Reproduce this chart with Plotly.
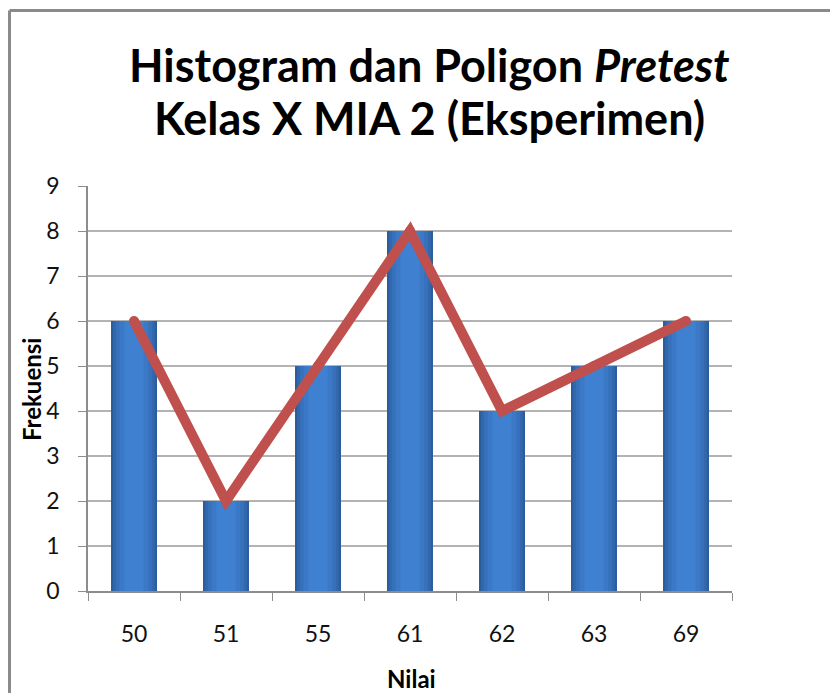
import plotly.graph_objects as go

nilai = ["50", "51", "55", "61", "62", "63", "69"]
frekuensi = [6, 2, 5, 8, 4, 5, 6]
y_ticks = [0, 1, 2, 3, 4, 5, 6, 7, 8, 9]

title_line1 = "Histogram dan Poligon <i>Pretest</i>"
title_line2 = "Kelas X MIA 2 (Eksperimen)"
x_title = "Nilai"
y_title = "Frekuensi"

FONT = "Lato"

fig = go.Figure()

# layered bars to imitate the horizontal shading of the original columns
layers = [
    (0.50, "#2C5D9C"),
    (0.45, "#3269AE"),
    (0.39, "#3771BB"),
    (0.31, "#3B79C6"),
    (0.21, "#3F80D0"),
]
for w, c in layers:
    fig.add_trace(go.Bar(
        x=nilai, y=frekuensi, width=w,
        marker=dict(color=c, line=dict(width=0)),
        showlegend=False, hoverinfo="skip",
    ))

fig.add_trace(go.Scatter(
    x=nilai, y=frekuensi, mode="lines+markers",
    line=dict(color="#C0504D", width=10),
    marker=dict(color="#C0504D", size=10),
    showlegend=False, hoverinfo="skip",
))

# page is offset by the 8px body margin; figure coordinates below
W, H = 830, 685
L, R = 80, 724
T, B = 178, 583

def px_x(px):
    return (px - L) / (R - L)

def px_y(py):
    return (B - py) / (B - T)

border = "#8A8A8A"
fig.add_shape(type="line", xref="paper", yref="paper",
              x0=px_x(1.5), x1=px_x(1.5),
              y0=px_y(700), y1=px_y(2.5),
              line=dict(color=border, width=3))
fig.add_shape(type="line", xref="paper", yref="paper",
              x0=px_x(1.5), x1=px_x(845),
              y0=px_y(2.5), y1=px_y(2.5),
              line=dict(color=border, width=3))

fig.add_annotation(text="<b>" + title_line1 + "</b>",
                   xref="paper", yref="paper", xanchor="center", yanchor="middle",
                   x=px_x(422), y=px_y(57), showarrow=False,
                   font=dict(family=FONT, size=45, color="#000000"))
fig.add_annotation(text="<b>" + title_line2 + "</b>",
                   xref="paper", yref="paper", xanchor="center", yanchor="middle",
                   x=px_x(422), y=px_y(110), showarrow=False,
                   font=dict(family=FONT, size=45, color="#000000"))

fig.add_annotation(text="<b>" + y_title + "</b>", xref="paper", yref="paper",
                   xanchor="center", yanchor="middle",
                   x=px_x(23), y=px_y(382), textangle=-90, showarrow=False,
                   font=dict(family=FONT, size=24, color="#000000"))
fig.add_annotation(text="<b>" + x_title + "</b>", xref="paper", yref="paper",
                   xanchor="center", yanchor="middle",
                   x=px_x(403), y=px_y(670), showarrow=False,
                   font=dict(family=FONT, size=24, color="#000000"))

fig.update_layout(
    width=W, height=H,
    margin=dict(l=L, r=W - R, t=T, b=H - B, autoexpand=False),
    paper_bgcolor="white", plot_bgcolor="white",
    barmode="overlay",
    font=dict(family=FONT, size=23, color="#000000"),
    xaxis=dict(
        type="category", range=[-0.5, 6.5],
        showline=True, linecolor="#8C8C8C", linewidth=1.5,
        ticks="outside", ticklen=8, tickcolor="#8C8C8C",
        tickson="boundaries", showgrid=False,
        tickfont=dict(family=FONT, size=23, color="#111111"),
        ticklabelstandoff=22,
    ),
    yaxis=dict(
        range=[0, 9], tickvals=y_ticks, zeroline=False,
        showline=True, linecolor="#8C8C8C", linewidth=1.5,
        ticks="outside", ticklen=8, tickcolor="#8C8C8C",
        showgrid=True, gridcolor="#B3B3B3", gridwidth=1.5,
        tickfont=dict(family=FONT, size=23, color="#111111"),
        ticklabelstandoff=14,
    ),
)

fig.write_html("out.html")
